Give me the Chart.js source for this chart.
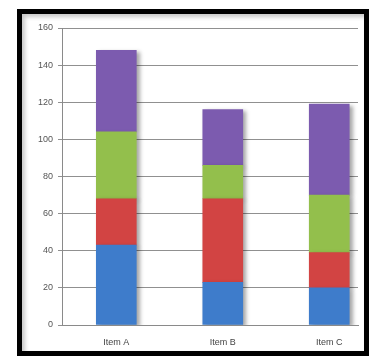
<!DOCTYPE html>
<html>
<head>
<meta charset="utf-8">
<script src="https://cdn.jsdelivr.net/npm/chart.js@4/dist/chart.umd.min.js"></script>
<style>
  html, body { margin: 0; padding: 0; background: #fff; }
  #frame {
    position: absolute; left: 17px; top: 9px;
    width: 342px; height: 337px;
    border: 5px solid #000;
    box-shadow: inset 3px 3px 4px rgba(0,0,0,0.22);
    background: #fff;
  }
  #chart { display: block; }
</style>
</head>
<body>
<div id="frame"><canvas id="chart" width="342" height="337"></canvas></div>
<script>
// Categories and stacked series
const categories = ["Item A", "Item B", "Item C"];
const series1 = [43, 23, 20];
const series2 = [25, 45, 19];
const series3 = [36, 18, 31];
const series4 = [44, 30, 49];
const yTicks = [0, 20, 40, 60, 80, 100, 120, 140, 160];

const colors = ["#3E7CCB", "#D24443", "#93BF4C", "#7C5BAF"];
const seriesList = [series1, series2, series3, series4];

const datasets = seriesList.map((vals, i) => ({
  label: "Series " + (i + 1),
  data: vals.map((v, j) => ({ x: j + 1, y: v })),
  backgroundColor: colors[i],
  borderWidth: 0,
  barThickness: 40
}));

// soft drop shadow behind the bars
const barShadow = {
  id: "barShadow",
  beforeDatasetsDraw(chart) {
    const ctx = chart.ctx;
    ctx.save();
    ctx.shadowColor = "rgba(0,0,0,0.35)";
    ctx.shadowBlur = 4;
    ctx.shadowOffsetX = 3;
    ctx.shadowOffsetY = 2;
  },
  afterDatasetsDraw(chart) {
    chart.ctx.restore();
  }
};

new Chart(document.getElementById("chart"), {
  type: "bar",
  data: { datasets },
  plugins: [barShadow],
  options: {
    responsive: false,
    animation: false,
    layout: { padding: { left: 0, right: 6, top: 14, bottom: 0 } },
    plugins: { legend: { display: false }, tooltip: { enabled: false } },
    scales: {
      x: {
        type: "linear",
        stacked: true,
        offset: false,
        min: 0.49,
        max: 3.27,
        afterBuildTicks(axis) { axis.ticks = [1, 2, 3].map(v => ({ value: v })); },
        afterFit(scale) { scale.height = 26; },
        grid: { display: false, offset: false },
        border: { display: true, color: "#8a8a8a", width: 1 },
        ticks: {
          callback: v => categories[v - 1],
          color: "#444",
          font: { family: "Liberation Sans", size: 9 },
          padding: 4,
          maxRotation: 0
        }
      },
      y: {
        stacked: true,
        min: 0,
        max: 160,
        afterBuildTicks(axis) { axis.ticks = yTicks.map(v => ({ value: v })); },
        afterFit(scale) { scale.width = 40; },
        grid: { color: "#909090", lineWidth: 1, tickLength: 4 },
        border: { display: true, color: "#8a8a8a", width: 1 },
        ticks: {
          color: "#555",
          font: { family: "Liberation Sans", size: 9 },
          padding: 5
        }
      }
    }
  }
});
</script>
</body>
</html>
